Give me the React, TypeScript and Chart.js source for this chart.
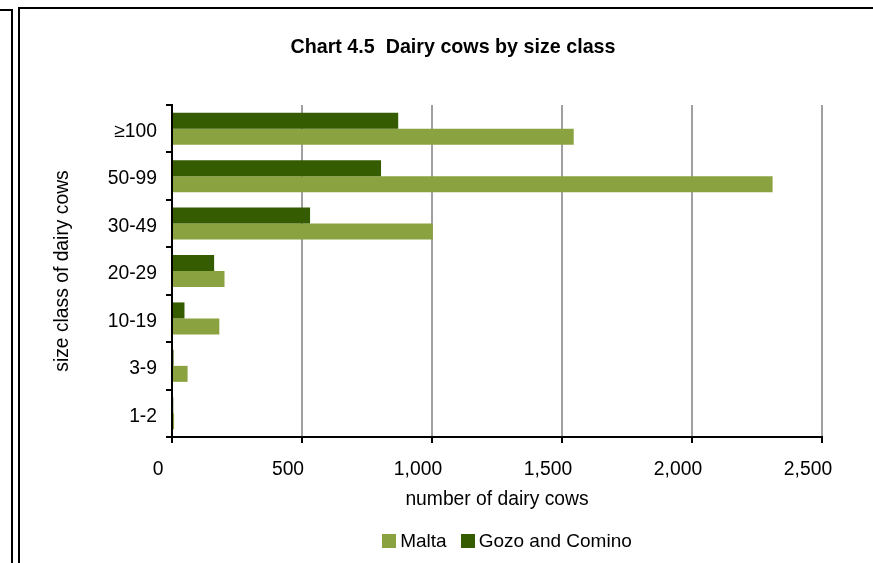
import React, { useEffect, useRef } from "react";
import { Chart, registerables } from "chart.js";

Chart.register(...registerables);

const categories = ["≥100", "50-99", "30-49", "20-29", "10-19", "3-9", "1-2"];
const maltaValues = [1545, 2310, 1003, 202, 182, 60, 8];
const gozoValues = [870, 804, 531, 162, 48, 6, 5];
const xTickValues = [0, 500, 1000, 1500, 2000, 2500];
const seriesNames = ["Malta", "Gozo and Comino"];
const titleText = "Chart 4.5  Dairy cows by size class";
const xAxisTitle = "number of dairy cows";
const yAxisTitle = "size class of dairy cows";

const MALTA_COLOR = "#8ba240";
const GOZO_COLOR = "#355c00";
const FONT_FAMILY = "'Liberation Sans', Arial, sans-serif";

export default function App() {
  const canvasRef = useRef<HTMLCanvasElement | null>(null);

  useEffect(() => {
    if (!canvasRef.current) return;
    const font = { family: FONT_FAMILY, size: 19.3 };
    const chart = new Chart(canvasRef.current, {
      type: "bar",
      data: {
        labels: categories,
        datasets: [
          {
            label: seriesNames[1],
            data: gozoValues,
            backgroundColor: GOZO_COLOR,
            categoryPercentage: 0.675,
            barPercentage: 1,
          },
          {
            label: seriesNames[0],
            data: maltaValues,
            backgroundColor: MALTA_COLOR,
            categoryPercentage: 0.675,
            barPercentage: 1,
          },
        ],
      },
      options: {
        indexAxis: "y",
        animation: false,
        responsive: true,
        maintainAspectRatio: false,
        layout: { padding: { left: 51, right: 51, top: 105, bottom: 52 } },
        plugins: {
          legend: { display: false },
          title: { display: false },
          tooltip: { enabled: false },
        },
        scales: {
          x: {
            min: 0,
            max: 2500,
            afterBuildTicks: (scale: any) => {
              scale.ticks = xTickValues.map((v) => ({ value: v }));
            },
            afterFit: (scale: any) => {
              scale.height = 74;
            },
            ticks: {
              font,
              color: "#000",
              padding: 15,
              labelOffset: -14,
              maxRotation: 0,
              callback: (v: any) => Number(v).toLocaleString("en-US"),
            },
            grid: {
              color: "#a0a0a0",
              lineWidth: 2,
              tickColor: "#000",
              tickLength: 6,
            },
            border: { color: "#000", width: 2 },
            title: {
              display: true,
              text: xAxisTitle,
              font,
              color: "#000",
              padding: { top: 0, bottom: 0 },
            },
          },
          y: {
            afterFit: (scale: any) => {
              scale.width = 121;
            },
            ticks: { font, color: "#000", padding: 9, labelOffset: 3 },
            grid: {
              drawOnChartArea: false,
              color: "#000",
              lineWidth: 2,
              tickLength: 6,
              offset: true,
            },
            border: { color: "#000", width: 2 },
            title: {
              display: true,
              text: yAxisTitle,
              font,
              color: "#000",
              padding: { top: 0, bottom: 0 },
            },
          },
        },
      },
    });
    return () => chart.destroy();
  }, []);

  const legendItems = [
    { name: seriesNames[0], color: MALTA_COLOR },
    { name: seriesNames[1], color: GOZO_COLOR },
  ];

  return (
    <div
      style={{
        position: "fixed",
        left: 0,
        top: 0,
        width: 873,
        height: 563,
        overflow: "hidden",
        background: "#fff",
        fontFamily: FONT_FAMILY,
      }}
    >
      <div style={{ position: "absolute", left: 0, top: 9, width: 11, height: 600, borderTop: "2px solid #000", borderRight: "2px solid #000" }} />
      <div style={{ position: "absolute", left: 18, top: 7, width: 900, height: 600, borderTop: "2px solid #000", borderLeft: "2px solid #000" }} />
      <div style={{ position: "absolute", left: 0, top: 0, width: 873, height: 563 }}>
        <canvas ref={canvasRef} />
      </div>
      <div
        style={{
          position: "absolute",
          left: 0,
          top: 34,
          width: 906,
          textAlign: "center",
          fontWeight: "bold",
          fontSize: 19.7,
          lineHeight: "24px",
          color: "#000",
          whiteSpace: "pre",
        }}
      >
        {titleText}
      </div>
      <div
        style={{
          position: "absolute",
          left: 0,
          top: 530,
          width: 1014,
          height: 22,
          display: "flex",
          justifyContent: "center",
          alignItems: "center",
          fontSize: 19,
          color: "#000",
        }}
      >
        {legendItems.map((it, i) => (
          <div key={it.name} style={{ display: "flex", alignItems: "center", marginLeft: i === 0 ? 0 : 14 }}>
            <span style={{ display: "inline-block", width: 14, height: 14, background: it.color, marginRight: 4 }} />
            <span>{it.name}</span>
          </div>
        ))}
      </div>
    </div>
  );
}
